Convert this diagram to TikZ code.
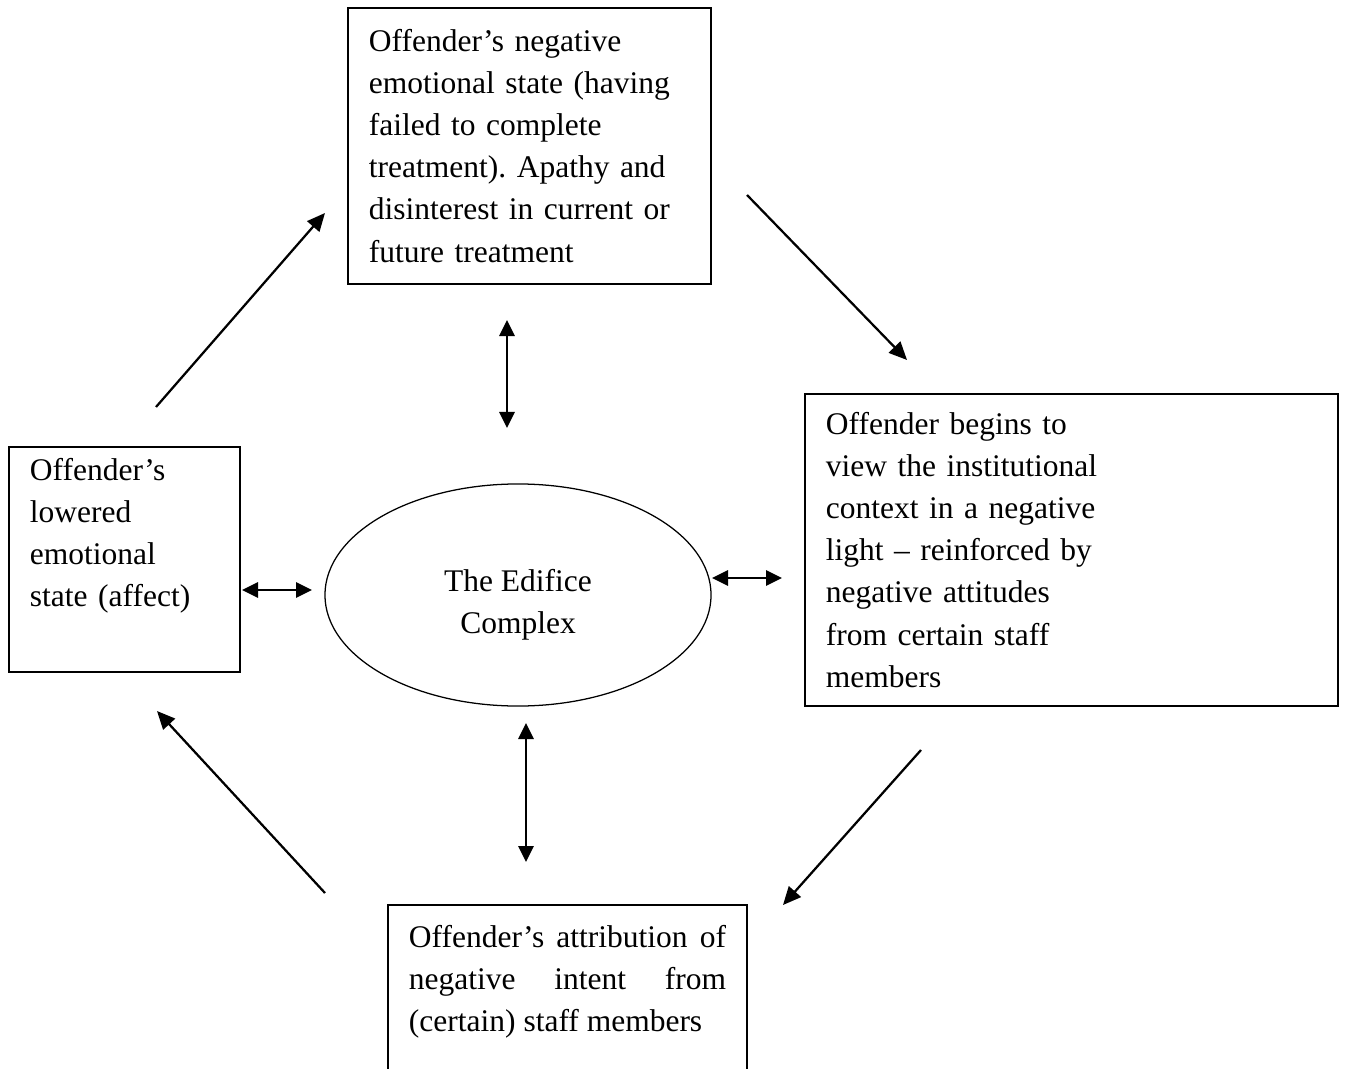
\documentclass[tikz,border=0pt]{standalone}
\usepackage{fontspec}
\setmainfont{Liberation Serif}
\usepackage{tikz}
\usetikzlibrary{shapes.geometric}
\usetikzlibrary{arrows.meta}
\frenchspacing

\begin{document}
\begin{tikzpicture}[x=0.025cm,y=-0.025cm,
  font=\fontsize{22.4pt}{29.9pt}\selectfont,
  box/.style={draw,line width=1.1pt,inner xsep=0.525cm,inner ysep=0pt},
  arr/.style={line width=1.6pt,-{Triangle[length=0.45cm,width=0.4cm]}},
  dbl/.style={line width=1.6pt,{Triangle[length=0.4cm,width=0.38cm]}-{Triangle[length=0.4cm,width=0.38cm]}}]
\useasboundingbox (0,0) rectangle (1346,1069);

\node[box,align=left,text width=8.025cm,minimum height=6.9cm] (treat) at (529.5,146)
  {Offender's negative\\ emotional state (having\\ failed to complete\\ treatment). Apathy and\\ disinterest in current or\\ future treatment};
\node[box,align=left,text width=4.725cm,minimum height=5.625cm] (lowered) at (124.5,559.5)
  {Offender's\\ lowered\\ emotional\\ state (affect)\\ \strut};
\node[box,align=left,text width=12.275cm,minimum height=7.8cm] (institution) at (1071.5,550)
  {Offender begins to\\ view the institutional\\ context in a negative\\ light -- reinforced by\\ negative attitudes\\ from certain staff\\ members};
\node[box,align=justify,text width=7.925cm,minimum height=5.05cm] (attrib) at (567.5,1006)
  {Offender's attribution of\linebreak negative intent from\linebreak (certain) staff members\\ \strut};
\node[draw,ellipse,line width=0.9pt,inner sep=0pt,minimum width=9.65cm,minimum height=5.55cm] (edifice) at (518,595) {};
\node[align=center] (edlabel) at ([yshift=-0.25cm]edifice.center) {The Edifice\\ Complex};

\coordinate (lo1) at (156,407);  \coordinate (tr1) at (325,213);
\coordinate (tr2) at (747,195);  \coordinate (in1) at (907,360);
\coordinate (in2) at (921,750);  \coordinate (at1) at (783,905);
\coordinate (at2) at (325,893);  \coordinate (lo2) at (157,711);
\draw[arr] (lo1) -- (tr1);
\draw[arr] (tr2) -- (in1);
\draw[arr] (in2) -- (at1);
\draw[arr] (at2) -- (lo2);

\coordinate (ed1) at (507,320);  \coordinate (ed2) at (507,428);
\coordinate (ed3) at (526,723);  \coordinate (ed4) at (526,862);
\coordinate (ed5) at (242,590);  \coordinate (ed6) at (312,590);
\coordinate (ed7) at (712,578);  \coordinate (ed8) at (782,578);
\draw[dbl] (ed1) -- (ed2);
\draw[dbl] (ed3) -- (ed4);
\draw[dbl] (ed5) -- (ed6);
\draw[dbl] (ed7) -- (ed8);
\end{tikzpicture}
\end{document}
